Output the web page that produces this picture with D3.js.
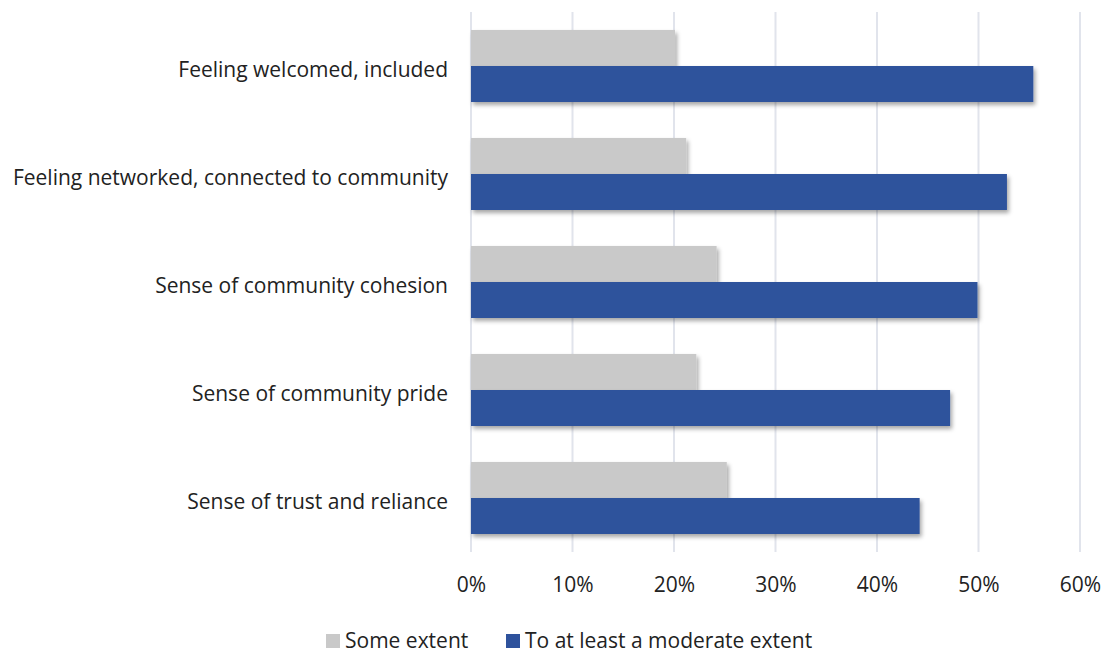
<!DOCTYPE html>
<html>
<head>
<meta charset="utf-8">
<script src="https://cdn.jsdelivr.net/npm/d3@7"></script>
<style>
  body { margin: 0; background: #fff; }
  text { font-family: "Open Sans", sans-serif; fill: #222; }
</style>
</head>
<body>
<script>
// chart values
var categories = [
    "Feeling welcomed, included",
    "Feeling networked, connected to community",
    "Sense of community cohesion",
    "Sense of community pride",
    "Sense of trust and reliance"
];
var seriesNames = ["Some extent", "To at least a moderate extent"];
var someExtent = [0.201, 0.212, 0.242, 0.222, 0.252];
var moderateExtent = [0.554, 0.528, 0.499, 0.472, 0.442];
var tickValues = [0, 0.1, 0.2, 0.3, 0.4, 0.5, 0.6];
var colors = ["#c9c9c9", "#2e529c"];

var width = 1105, height = 653;
var plot = {left: 471, right: 1080, top: 12, bottom: 552};
var fontSize = 21;

var rows = categories.map(function(c, i) {
    return {cat: c, values: [someExtent[i], moderateExtent[i]]};
});

var svg = d3.select("body").append("svg")
    .attr("width", width)
    .attr("height", height);

var defs = svg.append("defs");
var shadow = defs.append("filter")
    .attr("id", "shadow")
    .attr("x", "-5%").attr("y", "-20%")
    .attr("width", "115%").attr("height", "150%");
shadow.append("feDropShadow")
    .attr("dx", 2).attr("dy", 3)
    .attr("stdDeviation", 2)
    .attr("flood-color", "#000")
    .attr("flood-opacity", 0.35);

var x = d3.scaleLinear().domain([0, 0.6]).range([plot.left, plot.right]);
var y = d3.scaleBand().domain(categories).range([plot.top, plot.bottom]).paddingInner(1/3).paddingOuter(1/6);
var ySub = d3.scaleBand().domain([0, 1]).range([0, y.bandwidth()]);

// gridlines
svg.append("g")
    .selectAll("line")
    .data(tickValues).enter()
    .append("line")
    .attr("x1", function(d) { return x(d); })
    .attr("x2", function(d) { return x(d); })
    .attr("y1", plot.top)
    .attr("y2", plot.bottom)
    .attr("stroke", "#e1e4ec")
    .attr("stroke-width", 2);

// bars
var groups = svg.append("g").selectAll("g")
    .data(rows).enter()
    .append("g")
    .attr("transform", function(d) { return "translate(0," + y(d.cat) + ")"; });

groups.selectAll("rect")
    .data(function(d) { return d.values; }).enter()
    .append("rect")
    .attr("x", x(0))
    .attr("y", function(d, i) { return ySub(i); })
    .attr("width", function(d) { return x(d) - x(0); })
    .attr("height", ySub.bandwidth())
    .attr("fill", function(d, i) { return colors[i]; })
    .attr("filter", "url(#shadow)");

// category labels
svg.append("g").selectAll("text")
    .data(categories).enter()
    .append("text")
    .attr("x", 448)
    .attr("y", function(d) { return y(d) + y.bandwidth() / 2; })
    .attr("dy", "0.5em")
    .attr("text-anchor", "end")
    .attr("font-size", fontSize)
    .text(function(d) { return d; });

// x axis labels
var xAxis = d3.axisBottom(x)
    .tickValues(tickValues)
    .tickFormat(d3.format(".0%"))
    .tickSize(0)
    .tickPadding(0);

var axisG = svg.append("g")
    .attr("transform", "translate(0,577)")
    .call(xAxis);
axisG.select(".domain").remove();
axisG.selectAll("text")
    .attr("font-size", fontSize)
    .attr("font-family", "'Open Sans', sans-serif")
    .attr("fill", "#222");

// legend
var legendX = [326, 506];
var legend = svg.append("g").selectAll("g")
    .data(seriesNames).enter()
    .append("g")
    .attr("transform", function(d, i) { return "translate(" + legendX[i] + ",634)"; });
legend.append("rect")
    .attr("width", 14)
    .attr("height", 14)
    .attr("fill", function(d, i) { return colors[i]; });
legend.append("text")
    .attr("x", 19)
    .attr("y", 14)
    .attr("font-size", fontSize)
    .text(function(d) { return d; });
</script>
</body>
</html>
